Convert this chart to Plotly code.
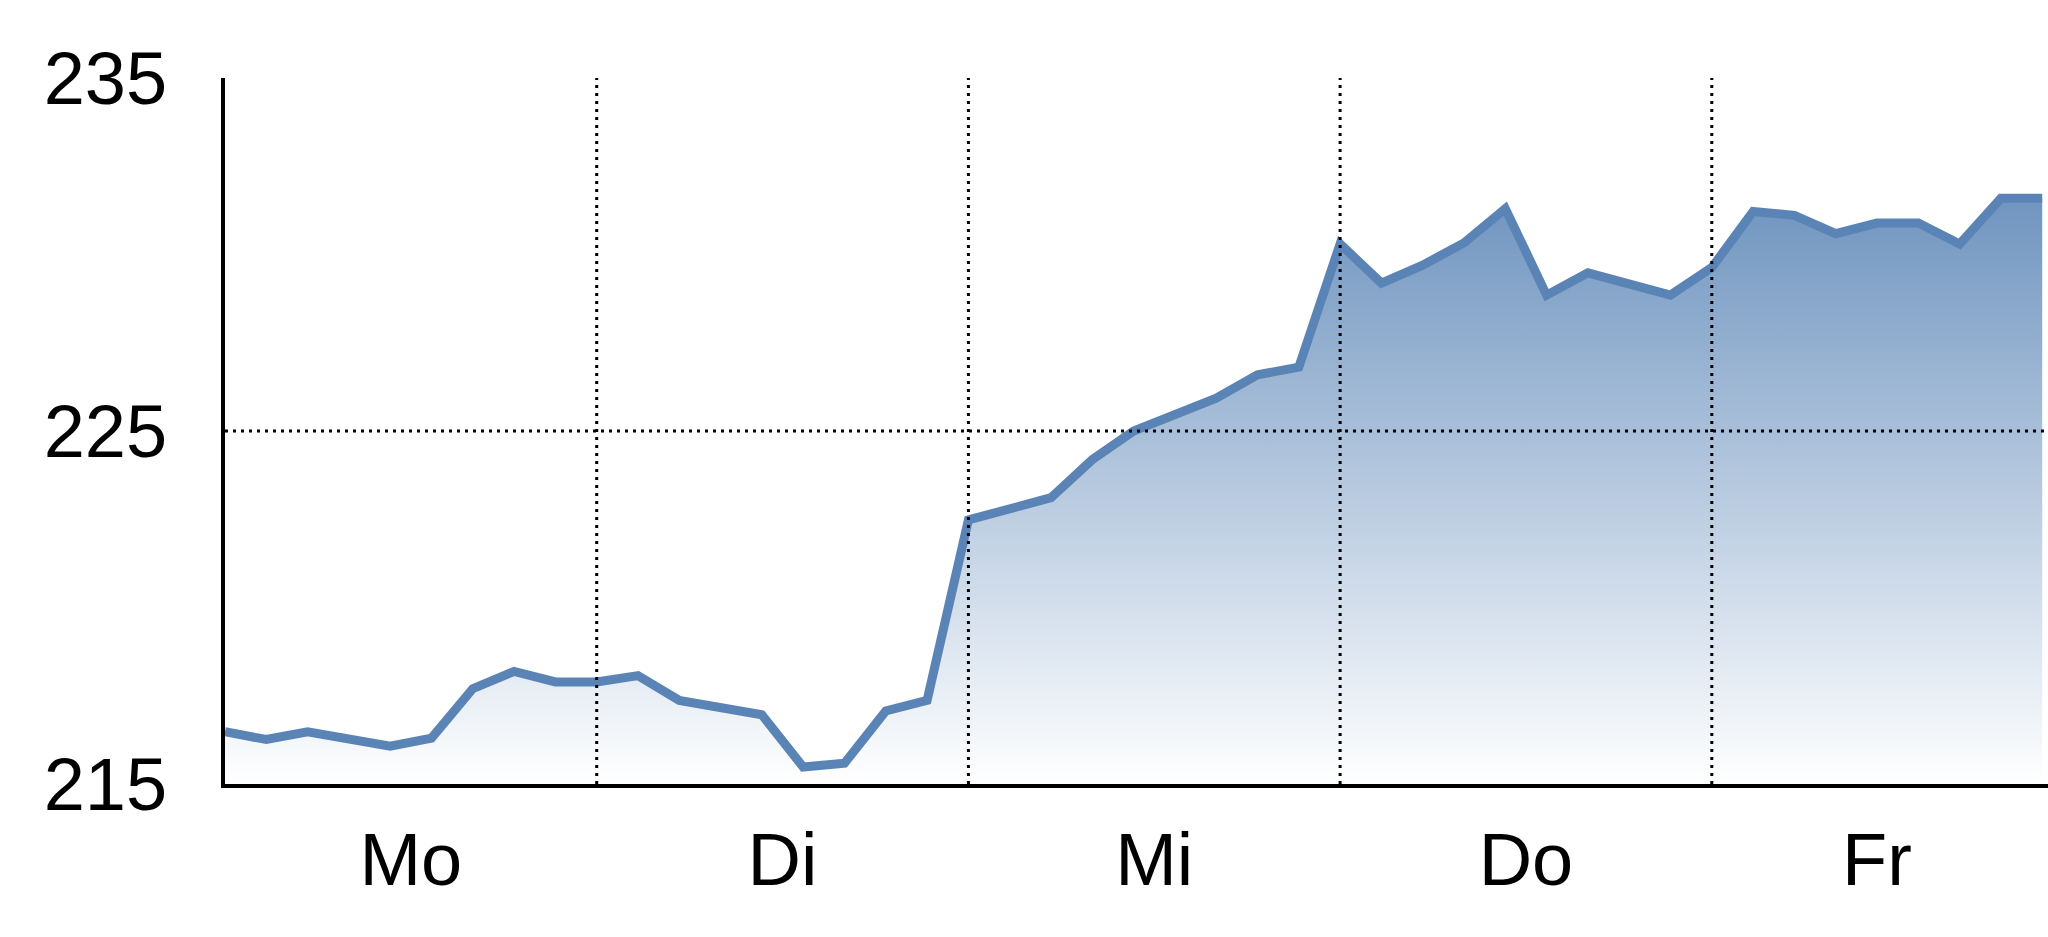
import plotly.graph_objects as go

# Data (x = interval index, 9 intervals per trading day)
x_idx = [0, 1, 2, 4, 5, 6, 7, 8, 9,
         10, 11, 13, 14, 15, 16, 17, 18,
         20, 21, 22, 24, 25, 26, 27,
         28, 29, 30, 31, 32, 33, 35, 36,
         37, 38, 39, 40, 41, 42, 43, 44]
values = [216.48, 216.26, 216.48, 216.07, 216.30, 217.70, 218.19, 217.89, 217.89,
          218.07, 217.37, 216.96, 215.48, 215.59, 217.07, 217.37, 222.48,
          223.11, 224.19, 225.00, 225.93, 226.59, 226.81, 230.30,
          229.19, 229.70, 230.33, 231.30, 228.85, 229.48, 228.85, 229.63,
          231.22, 231.11, 230.59, 230.89, 230.89, 230.30, 231.59, 231.59]

day_labels = ["Mo", "Di", "Mi", "Do", "Fr"]
day_label_pos = [4.5, 13.5, 22.5, 31.5, 40]
day_boundaries = [9, 18, 27, 36]
y_ticks = [215, 225, 235]
y_grid = [225]

FONT = "Liberation Sans, Arial, sans-serif"
LINE_COLOR = "#5b84b6"

fig = go.Figure()
fig.add_trace(go.Scatter(
    x=x_idx, y=values, mode="lines",
    line=dict(color=LINE_COLOR, width=9),
    fill="tozeroy",
    fillgradient=dict(type="vertical", start=215, stop=232,
                      colorscale=[[0, "rgba(255,255,255,1)"], [1, "rgb(108,146,190)"]]),
    hoverinfo="skip", showlegend=False,
))

GRID = dict(color="black", width=3, dash="3px,5px")
for b in day_boundaries:
    fig.add_shape(type="line", xref="x", yref="paper", x0=b, x1=b, y0=0, y1=1,
                  line=GRID, layer="above")
for g in y_grid:
    fig.add_shape(type="line", xref="paper", yref="y", x0=0, x1=1, y0=g, y1=g,
                  line=GRID, layer="above")

fig.update_layout(
    width=2048, height=937,
    margin=dict(l=225, r=0, t=78, b=153),
    paper_bgcolor="white", plot_bgcolor="white",
    font=dict(family=FONT, size=74, color="black"),
    showlegend=False,
)
fig.update_xaxes(
    range=[0, 44.14],
    tickvals=day_label_pos, ticktext=day_labels,
    showgrid=False, zeroline=False,
    showline=True, linecolor="black", linewidth=4,
    ticks="", ticklabelstandoff=8,
    tickfont=dict(family=FONT, size=74, color="black"),
)
fig.update_yaxes(
    range=[215, 235],
    tickvals=y_ticks,
    showgrid=False, zeroline=False,
    showline=True, linecolor="black", linewidth=4,
    ticks="", ticklabelstandoff=39,
    tickfont=dict(family=FONT, size=74, color="black"),
)

fig.write_html("out.html", config={"displayModeBar": False},
               post_script="document.body.style.margin='0';document.body.style.overflow='hidden';")
